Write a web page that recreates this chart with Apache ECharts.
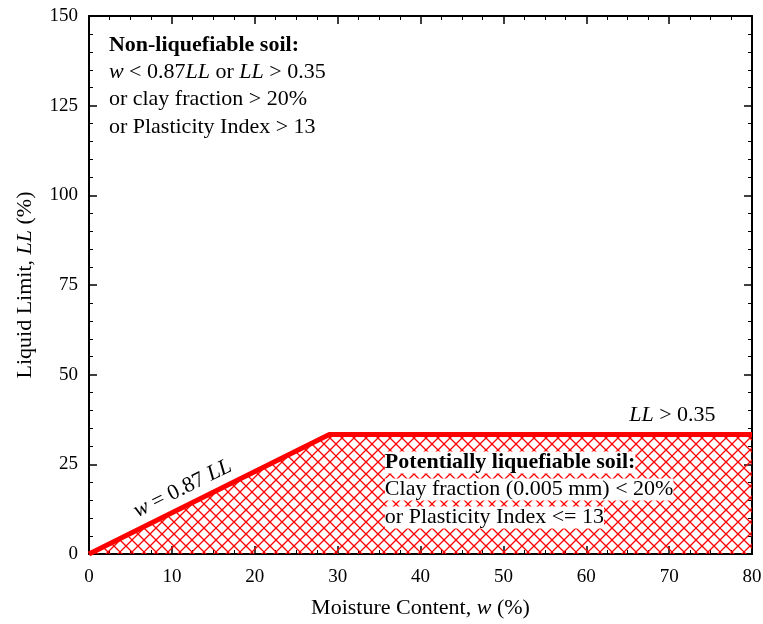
<!DOCTYPE html>
<html>
<head>
<meta charset="utf-8">
<script src="https://cdn.jsdelivr.net/npm/echarts@6/dist/echarts.min.js"></script>
<style>
  html, body { margin: 0; padding: 0; background: #fff; }
  #chart { width: 763px; height: 624px; }
</style>
</head>
<body>
<div id="chart"></div>
<script>
// Liquefaction boundary: w = 0.87 LL up to the break, then LL constant
const boundaryW = [0, 29, 80];
const boundaryLL = [0, 33.3, 33.3];

const xTicks = [0, 10, 20, 30, 40, 50, 60, 70, 80];
const yTicks = [0, 25, 50, 75, 100, 125, 150];

const FONT = '"Liberation Serif", "Times New Roman", serif';
const RED = '#ff0000';
const TICK_SIZE = 19;
const TEXT_SIZE = 22;

// Cross-hatch tile for the liquefiable zone
function hatchTile() {
  const s = 12;
  const c = document.createElement('canvas');
  c.width = s; c.height = s;
  const g = c.getContext('2d');
  g.strokeStyle = RED;
  g.lineWidth = 1.3;
  g.beginPath();
  g.moveTo(-2, -2); g.lineTo(s + 2, s + 2);
  g.moveTo(s + 2, -2); g.lineTo(-2, s + 2);
  g.stroke();
  return c;
}

const chart = echarts.init(document.getElementById('chart'), null, { renderer: 'canvas' });

const axisCommon = {
  axisLine: { show: true, onZero: false, lineStyle: { color: '#000', width: 2 } },
  axisTick: { show: true, inside: true, length: 8, lineStyle: { color: '#000', width: 1.5 } },
  minorTick: { show: true, length: 4, lineStyle: { color: '#000', width: 1 } },
  splitLine: { show: false }
};

const titleRich = {
  n: { fontFamily: FONT, fontSize: TEXT_SIZE, color: '#000' },
  i: { fontFamily: FONT, fontSize: TEXT_SIZE, color: '#000', fontStyle: 'italic' }
};

const option = {
  animation: false,
  backgroundColor: '#fff',
  grid: { left: 89, right: 11, top: 16, bottom: 70, containLabel: false, outerBoundsMode: 'none' },
  xAxis: [
    Object.assign({}, axisCommon, {
      type: 'value', min: xTicks[0], max: xTicks[xTicks.length - 1], interval: 10,
      position: 'bottom',
      minorTick: Object.assign({}, axisCommon.minorTick, { splitNumber: 4 }),
      axisLabel: { color: '#000', fontFamily: FONT, fontSize: TICK_SIZE, margin: 14 },
      name: '{n|Moisture Content, }{i|w}{n| (%)}',
      nameLocation: 'middle', nameGap: 43,
      nameTextStyle: { rich: titleRich }
    }),
    Object.assign({}, axisCommon, {
      type: 'value', min: xTicks[0], max: xTicks[xTicks.length - 1], interval: 10,
      position: 'top',
      minorTick: Object.assign({}, axisCommon.minorTick, { splitNumber: 4 }),
      axisLabel: { show: false }
    })
  ],
  yAxis: [
    Object.assign({}, axisCommon, {
      type: 'value', min: yTicks[0], max: yTicks[yTicks.length - 1], interval: 25,
      position: 'left',
      minorTick: Object.assign({}, axisCommon.minorTick, { splitNumber: 5 }),
      axisLabel: { color: '#000', fontFamily: FONT, fontSize: TICK_SIZE, margin: 11 },
      name: '{n|Liquid Limit, }{i|LL}{n| (%)}',
      nameLocation: 'middle', nameGap: 53, nameRotate: 90,
      nameTextStyle: { rich: titleRich }
    }),
    Object.assign({}, axisCommon, {
      type: 'value', min: yTicks[0], max: yTicks[yTicks.length - 1], interval: 25,
      position: 'right',
      minorTick: Object.assign({}, axisCommon.minorTick, { splitNumber: 5 }),
      axisLabel: { show: false }
    })
  ],
  series: [{
    type: 'line',
    xAxisIndex: 0, yAxisIndex: 0,
    data: boundaryW.map((w, i) => [w, boundaryLL[i]]),
    symbol: 'none',
    lineStyle: { color: RED, width: 5, join: 'miter' },
    areaStyle: { color: { image: hatchTile(), repeat: 'repeat' }, opacity: 1 },
    z: 3
  }]
};

chart.setOption(option);

// Annotations placed relative to data coordinates
function px(x, y) { return chart.convertToPixel({ xAxisIndex: 0, yAxisIndex: 0 }, [x, y]); }

const textStyle = (extra) => Object.assign({ fontFamily: FONT, fontSize: TEXT_SIZE, fill: '#000' }, extra);

const topLeft = px(2.4, 141.8);
const lowBox = px(35.7, 25.5);
const slopeA = px(0, 0), slopeB = px(boundaryW[1], boundaryLL[1]);
const slopeAngle = Math.atan2(slopeA[1] - slopeB[1], slopeB[0] - slopeA[0]);
const slopeLabel = px(11.3, 18.2);
const llLabel = px(75.6, 38.8);

const richDefs = {
  n: { fontFamily: FONT, fontSize: TEXT_SIZE, fill: '#000' },
  i: { fontFamily: FONT, fontSize: TEXT_SIZE, fill: '#000', fontStyle: 'italic' }
};

const graphics = [
  { type: 'text', x: topLeft[0], y: topLeft[1], z: 10,
    style: textStyle({ text: 'Non-liquefiable soil:', fontWeight: 'bold', verticalAlign: 'middle' }) },
  { type: 'text', x: topLeft[0], y: topLeft[1] + 27, z: 10,
    style: { text: '{i|w}{n| < 0.87}{i|LL}{n| or }{i|LL}{n| > 0.35}', rich: richDefs, verticalAlign: 'middle' } },
  { type: 'text', x: topLeft[0], y: topLeft[1] + 54, z: 10,
    style: textStyle({ text: 'or clay fraction > 20%', verticalAlign: 'middle' }) },
  { type: 'text', x: topLeft[0], y: topLeft[1] + 82, z: 10,
    style: textStyle({ text: 'or Plasticity Index > 13', verticalAlign: 'middle' }) },

  { type: 'text', x: llLabel[0], y: llLabel[1], z: 10,
    style: { text: '{i|LL}{n| > 0.35}', rich: richDefs, align: 'right', verticalAlign: 'middle' } },

  { type: 'text', x: slopeLabel[0], y: slopeLabel[1], rotation: slopeAngle, z: 10,
    style: { text: '{i|w}{n| = 0.87 }{i|LL}', rich: richDefs, align: 'center', verticalAlign: 'middle' } },

  { type: 'text', x: lowBox[0], y: lowBox[1], z: 10,
    style: textStyle({ text: 'Potentially liquefiable soil:', fontWeight: 'bold', verticalAlign: 'middle', backgroundColor: '#fff' }) },
  { type: 'text', x: lowBox[0], y: lowBox[1] + 27, z: 10,
    style: textStyle({ text: 'Clay fraction (0.005 mm) < 20%', verticalAlign: 'middle', backgroundColor: '#fff' }) },
  { type: 'text', x: lowBox[0], y: lowBox[1] + 55, z: 10,
    style: textStyle({ text: 'or Plasticity Index <= 13', verticalAlign: 'middle', backgroundColor: '#fff' }) }
];

chart.setOption({ graphic: graphics });
</script>
</body>
</html>
